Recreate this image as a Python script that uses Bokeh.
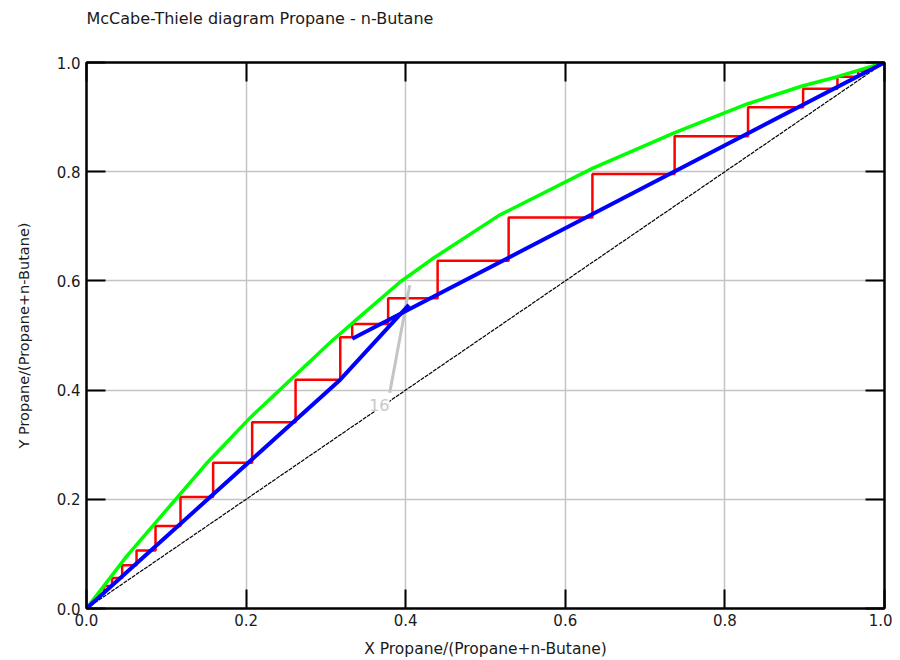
from bokeh.plotting import figure
from bokeh.models import Range1d, FixedTicker, LinearAxis, Label, Title
from bokeh.embed import file_html
from bokeh.resources import INLINE

# ---- data ----
ticks = [0.0, 0.2, 0.4, 0.6, 0.8, 1.0]
tick_labels = ["0.0", "0.2", "0.4", "0.6", "0.8", "1.0"]

diag_x = [0.0, 1.0]
diag_y = [0.0, 1.0]

# equilibrium curve (green)
eq_x = [0.0, 0.05, 0.10, 0.15, 0.2055, 0.26, 0.306, 0.343, 0.393, 0.433, 0.517, 0.634, 0.738, 0.828, 0.897, 0.941, 1.0]
eq_y = [0.0, 0.095, 0.18, 0.265, 0.350, 0.425, 0.488, 0.535, 0.598, 0.640, 0.720, 0.806, 0.872, 0.924, 0.957, 0.974, 1.0]

# operating lines (blue)
rect_x = [1.0, 0.333]
rect_y = [1.0, 0.494]
strip_x = [0.0, 0.318, 0.404]
strip_y = [0.0, 0.419, 0.556]

# stages (red staircase)
stair_x = [0.985, 0.967, 0.967, 0.941, 0.941, 0.898, 0.898, 0.829, 0.829, 0.737, 0.737,
           0.634, 0.634, 0.529, 0.529, 0.440, 0.440, 0.378, 0.378, 0.333, 0.333, 0.318,
           0.318, 0.262, 0.262, 0.2076, 0.2076, 0.1587, 0.1587, 0.1178, 0.1178, 0.0865,
           0.0865, 0.0627, 0.0627, 0.0447, 0.0447, 0.032, 0.032, 0.022, 0.022]
stair_y = [0.985, 0.985, 0.974, 0.974, 0.952, 0.952, 0.918, 0.918, 0.865, 0.865, 0.796,
           0.796, 0.716, 0.716, 0.637, 0.637, 0.568, 0.568, 0.521, 0.521, 0.497, 0.497,
           0.419, 0.419, 0.341, 0.341, 0.267, 0.267, 0.204, 0.204, 0.151, 0.151,
           0.106, 0.106, 0.079, 0.079, 0.056, 0.056, 0.041, 0.041, 0.028]

# feed line (grey) and its label
q_x = [0.380, 0.405]
q_y = [0.395, 0.592]
feed_label = "16"
feed_label_x = 0.367
feed_label_y = 0.372

title_text = "McCabe-Thiele diagram Propane - n-Butane"
x_title = "X Propane/(Propane+n-Butane)"
y_title = "Y Propane/(Propane+n-Butane)"

FONT = "DejaVu Sans"
TXT = "#1a1a1a"

p = figure(width=892, height=660, output_backend="svg", toolbar_location=None,
           x_range=Range1d(0, 1), y_range=Range1d(0, 1), title=title_text,
           frame_width=798, frame_height=546,
           min_border_left=86, min_border_right=8, min_border_top=62, min_border_bottom=52)

p.title.text_font = FONT
p.title.text_font_size = "16px"
p.title.text_font_style = "normal"
p.title.text_color = TXT
p.title.align = "left"
p.title.standoff = 4

p.background_fill_color = "white"
p.border_fill_color = "white"
p.outline_line_color = "black"
p.outline_line_width = 2
p.outline_line_alpha = 1

for ax in (p.xaxis[0], p.yaxis[0]):
    ax.ticker = FixedTicker(ticks=ticks)
    ax.major_label_overrides = {t: l for t, l in zip(ticks, tick_labels)}
    ax.major_tick_in = 19
    ax.major_tick_out = 0
    ax.major_tick_line_width = 2
    ax.major_tick_line_color = "black"
    ax.minor_tick_line_color = None
    ax.axis_line_color = "black"
    ax.axis_line_width = 2
    ax.major_label_text_font = FONT
    ax.major_label_text_font_size = "15px"
    ax.major_label_text_color = TXT
    ax.axis_label_text_font = FONT
    ax.axis_label_text_font_style = "normal"
    ax.axis_label_text_color = TXT

p.xaxis.axis_label = x_title
p.yaxis.axis_label = y_title
p.xaxis.axis_label_text_font_size = "15.5px"
p.yaxis.axis_label_text_font_size = "14.5px"
p.xaxis.major_label_standoff = 5
p.xaxis.axis_label_standoff = 11
p.yaxis.major_label_standoff = 6
p.yaxis.axis_label_standoff = 22

for loc in ("above", "right"):
    ax = LinearAxis(ticker=FixedTicker(ticks=ticks), major_tick_in=19, major_tick_out=0,
                    major_tick_line_width=2, major_tick_line_color="black",
                    minor_tick_line_color=None, axis_line_color="black", axis_line_width=2,
                    major_label_text_color=None, major_label_text_font_size="1px",
                    major_label_standoff=0)
    p.add_layout(ax, loc)

# blank spacer between the frame and the chart title (pushes the title upward)
p.add_layout(Title(text=" ", text_font_size="16px", standoff=14), "above")

p.xgrid.ticker = FixedTicker(ticks=ticks)
p.ygrid.ticker = FixedTicker(ticks=ticks)
p.grid.grid_line_color = "#c4c4c4"
p.grid.grid_line_width = 1.5

p.line(diag_x, diag_y, line_color="black", line_width=1.2, line_dash="4 1")
p.line(stair_x, stair_y, line_color="#ff0000", line_width=2.5)
p.line(eq_x, eq_y, line_color="#00ff00", line_width=3.5)
p.line(q_x, q_y, line_color="#c4c4c4", line_width=3)
p.line(rect_x, rect_y, line_color="#0000ff", line_width=4)
p.line(strip_x, strip_y, line_color="#0000ff", line_width=4)

p.add_layout(Label(x=feed_label_x, y=feed_label_y, text=feed_label, text_align="center",
                   text_baseline="middle", text_font=FONT, text_font_size="16px",
                   text_color="#c8c8c8", background_fill_color="white"))

open("out.html", "w").write(file_html(p, INLINE))
